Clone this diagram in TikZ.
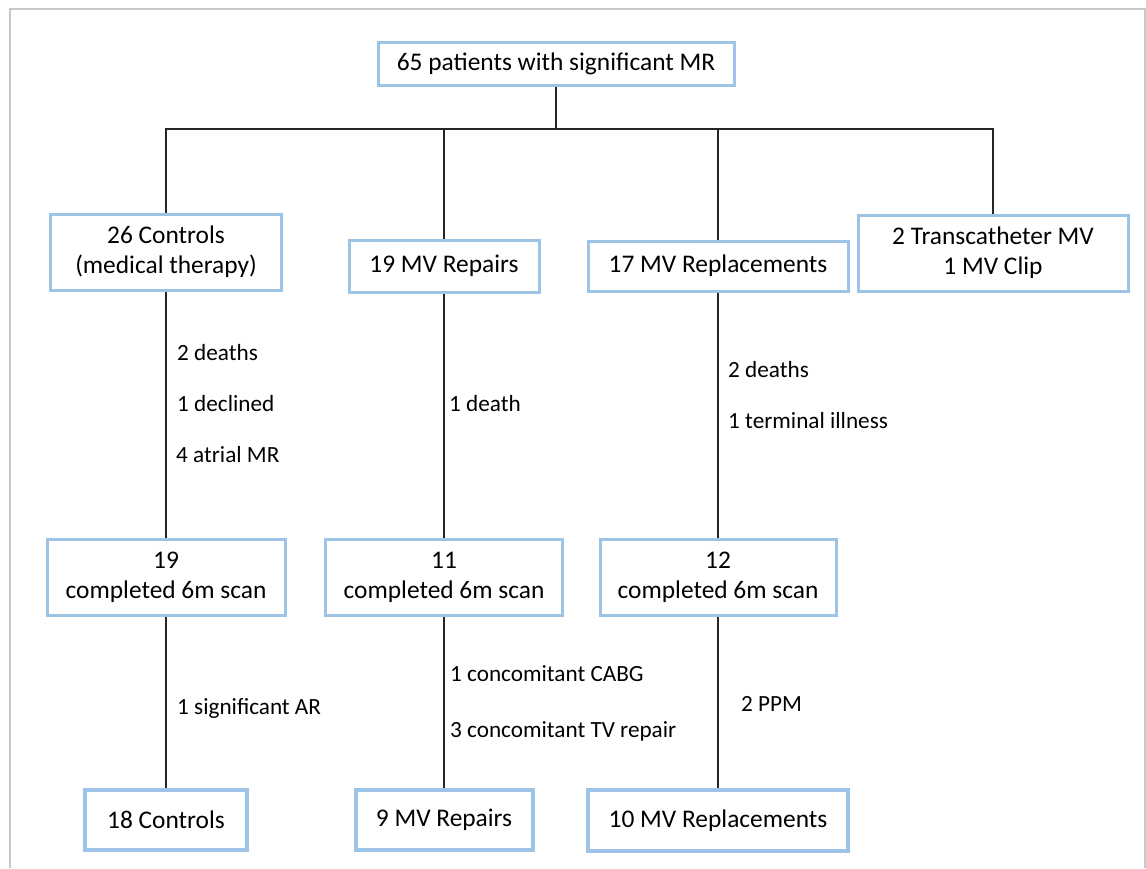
\documentclass[tikz,border=0pt]{standalone}
\usepackage{fontspec}
\setmainfont{Carlito}
\definecolor{boxblue}{RGB}{157,195,230}
\definecolor{framegray}{RGB}{200,200,200}
\begin{document}
\begin{tikzpicture}[x=1pt,y=-1pt,
  box/.style={draw=boxblue, line width=3pt, fill=white, inner sep=0pt, align=center,
    font=\fontsize{25.4}{30}\selectfont},
  finalbox/.style={box, line width=4pt},
  lbl/.style={anchor=west, inner sep=0pt, font=\fontsize{23.2}{27}\selectfont},
  conn/.style={draw=black!85, line width=1.3pt}]
\useasboundingbox (0,0) rectangle (1146,868);
\draw[framegray, line width=2pt] (10,868) -- (10,9) -- (1145,9) -- (1145,868);

% level 1
\node[box, minimum width=356pt, minimum height=43pt] (top) at (556,63.5) {65 patients with significant MR};
% level 2
\node[box, minimum width=231pt, minimum height=76pt] (ctrl) at (166,252) {26 Controls\\(medical therapy)};
\node[box, minimum width=190pt, minimum height=52pt] (rep) at (444,266) {19 MV Repairs};
\node[box, minimum width=260pt, minimum height=50pt] (repl) at (718,266) {17 MV Replacements};
\node[box, minimum width=270pt, minimum height=76pt] (tc) at (993,253) {2 Transcatheter MV\\1 MV Clip};
% level 3
\node[box, minimum width=238pt, minimum height=76pt] (c19) at (166,577) {19\\completed 6m scan};
\node[box, minimum width=237pt, minimum height=76pt] (c11) at (444,577) {11\\completed 6m scan};
\node[box, minimum width=236pt, minimum height=76pt] (c12) at (718,577) {12\\completed 6m scan};
% level 4
\node[finalbox, minimum width=162pt, minimum height=60pt] (f18) at (166,819.5) {18 Controls};
\node[finalbox, minimum width=177pt, minimum height=60pt] (f9) at (444,820) {9 MV Repairs};
\node[finalbox, minimum width=260pt, minimum height=61pt] (f10) at (718,820.5) {10 MV Replacements};

\coordinate (j) at (556,129);

% connectors
\draw[conn] (top.south) -- (j);
\draw[conn] (ctrl.north) |- (j);
\draw[conn] (tc.north) |- (j);
\draw[conn] (rep.north) -- (rep.north |- j);
\draw[conn] (repl.north) -- (repl.north |- j);
\draw[conn] (ctrl.south) -- (c19.north);
\draw[conn] (rep.south) -- (c11.north);
\draw[conn] (repl.south) -- (c12.north);
\draw[conn] (c19.south) -- (f18.north);
\draw[conn] (c11.south) -- (f9.north);
\draw[conn] (c12.south) -- (f10.north);

% labels
\node[lbl] (l1) at (177,353) {2 deaths};
\node[lbl] (l2) at (177,404) {1 declined};
\node[lbl] (l3) at (176,455) {4 atrial MR};
\node[lbl] (l4) at (449,404) {1 death};
\node[lbl] (l5) at (728,370) {2 deaths};
\node[lbl] (l6) at (728,421) {1 terminal illness};
\node[lbl] (l7) at (177,708) {1 significant AR};
\node[lbl] (l8) at (450,674) {1 concomitant CABG};
\node[lbl] (l9) at (450,731) {3 concomitant TV repair};
\node[lbl] (l10) at (741,704) {2 PPM};
\end{tikzpicture}
\end{document}
